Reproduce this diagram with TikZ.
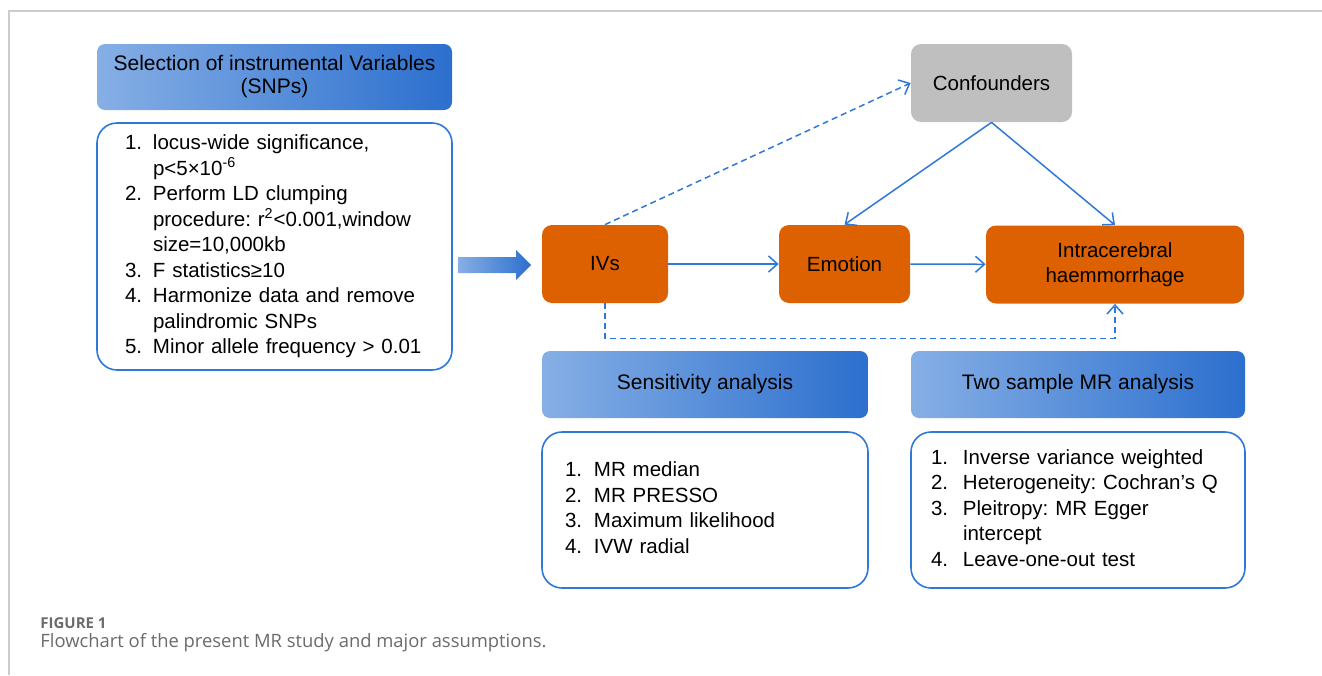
\documentclass[tikz,border=0pt]{standalone}
\usepackage{fontspec}
\setmainfont{Liberation Sans}
\newfontfamily\capfont{Open Sans}
\frenchspacing
\usetikzlibrary{positioning,calc,arrows.meta}
\definecolor{lineblue}{HTML}{2F78D6}
\definecolor{hdrL}{HTML}{86AFE5}
\definecolor{hdrR}{HTML}{2C6FCE}
\definecolor{ivorange}{HTML}{DD6100}
\definecolor{confgray}{HTML}{BFBFBF}
\definecolor{framegray}{HTML}{CCCCCC}
\definecolor{capgray}{HTML}{6B6B6B}
\tikzset{hdr/.style={rounded corners=4pt,left color=hdrL,right color=hdrR,align=center,inner sep=0pt,font=\fontsize{10.5}{11.5}\selectfont}}
\tikzset{lst/.style={draw=lineblue,line width=0.8pt,rounded corners=10pt,fill=white,align=left,inner ysep=0pt,font=\fontsize{10.25}{12.75}\selectfont}}
\tikzset{var/.style={fill=ivorange,rounded corners=5pt,align=center,inner sep=0pt,minimum height=39pt,font=\fontsize{10.25}{12.5}\selectfont}}
\tikzset{conn/.style={draw=lineblue,line width=0.75pt}}
\tikzset{>={Straight Barb[length=4.5pt,width=8pt]}}

\begin{document}
\begin{tikzpicture}[x=0.5pt,y=-0.5pt]
	\useasboundingbox (0,0) rectangle (1322,675);
	\draw[framegray,line width=0.6pt] (1322,11) -- (9,11) -- (9,675);

	% instrument selection
	\node[hdr,minimum width=177.5pt,minimum height=33pt] (selhdr) at (274.5,77) {Selection of instrumental Variables\\(SNPs)};
	\node[lst,minimum width=177.5pt,minimum height=123.5pt,inner xsep=14pt,text width=149.5pt] (sellist) at (274.5,246.5) {%
		\begin{tabular}{@{}p{14pt}@{}l@{}}
			1. & locus-wide significance,\\
			   & p<5×10\textsuperscript{-6}\\
			2. & Perform LD clumping\\
			   & procedure: r\textsuperscript{2}<0.001,window\\
			   & size=10,000kb\\
			3. & F statistics≥10\\
			4. & Harmonize data and remove\\
			   & palindromic SNPs\\
			5. & Minor allele frequency > 0.01
		\end{tabular}};
	\shade[left color=hdrL,right color=hdrR] (458,257) -- (516,257) -- (516,250) -- (531,265) -- (516,280) -- (516,273) -- (458,273) -- cycle;

	% MR model
	\node[var,minimum width=63pt] (ivs) at (605,264) {IVs};
	\node[var,minimum width=65.5pt] (emo) at (844.5,264) {Emotion};
	\node[var,minimum width=129pt] (ich) at (1115,264.5) {Intracerebral\\haemmorrhage};
	\node[var,fill=confgray,minimum width=80.5pt] (conf) at (991.5,83) {Confounders};

	\draw[conn,->] (ivs) -- (emo);
	\draw[conn,->] (emo) -- (ich);
	\draw[conn,->] (conf.south) -- (emo.north);
	\draw[conn,->] (conf.south) -- (ich.north);
	\draw[conn,dash pattern=on 3pt off 2pt,->] (ivs.north) -- (conf.west);
	\draw[conn,dash pattern=on 3pt off 2pt,->] (ivs.south) -- ++(0,35) -| (ich.south);

	% analyses
	\node[hdr,minimum width=163pt,minimum height=33.5pt] (senshdr) at (705,384.5) {Sensitivity analysis};
	\node[lst,minimum width=163pt,minimum height=78pt,inner xsep=11.5pt,text width=140pt] (senslist) at (705,510) {%
		\begin{tabular}{@{}p{14.5pt}@{}l@{}}
			1. & MR median\\
			2. & MR PRESSO\\
			3. & Maximum likelihood\\
			4. & IVW radial
		\end{tabular}};
	\node[hdr,minimum width=167pt,minimum height=33.5pt] (twohdr) at (1078,384.5) {Two sample MR analysis};
	\node[lst,minimum width=167pt,minimum height=78pt,inner xsep=10pt,text width=147pt] (twolist) at (1078,510) {%
		\begin{tabular}{@{}p{16pt}@{}l@{}}
			1. & Inverse variance weighted\\
			2. & Heterogeneity: Cochran’s Q\\
			3. & Pleitropy: MR Egger\\
			   & intercept\\
			4. & Leave-one-out test
		\end{tabular}};

	% caption
	\node[anchor=west,inner sep=0pt,text=capgray,font=\capfont\fontsize{7.5}{8.5}\selectfont\bfseries] (fig) at (40,623) {FIGURE 1};
	\node[anchor=west,inner sep=0pt,text=capgray,font=\capfont\fontsize{9.2}{11}\selectfont] (cap) at (40,643) {Flowchart of the present MR study and major assumptions.};
\end{tikzpicture}
\end{document}
